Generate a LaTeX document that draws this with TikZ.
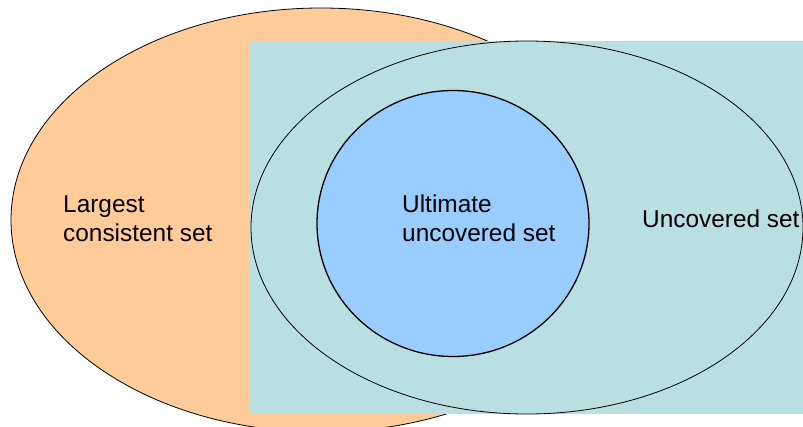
\documentclass[tikz,border=0pt]{standalone}
\usepackage{fontspec}
\setmainfont{Liberation Sans}
\usetikzlibrary{shapes.geometric}
\definecolor{peach}{HTML}{FFCC99}
\definecolor{teal}{HTML}{BADFE2}
\definecolor{skyblue}{HTML}{99CCFF}
\tikzset{
  setoval/.style={ellipse, draw=black, inner sep=0pt, line width=0.8pt},
  lbl/.style={align=left, inner sep=0pt, anchor=base west,
    font=\fontsize{24.4pt}{29pt}\selectfont}
}
\begin{document}
\begin{tikzpicture}[x=1pt,y=-1pt]
\useasboundingbox (0,0) rectangle (803,426);
\node[setoval, fill=peach, minimum width=620pt, minimum height=424pt] (lcs) at (321,220) {};
\fill[teal] (250,41) rectangle (803,414);
\node[setoval, minimum width=552pt, minimum height=373pt] (unc) at (527,227.5) {};
\node[setoval, fill=skyblue, line width=1.3pt, minimum width=272pt, minimum height=266pt] (ult) at (453,223.5) {};
\node[lbl] (tlcs) at (63,241) {Largest\\consistent set};
\node[lbl] (tult) at (402,241) {Ultimate\\uncovered set};
\node[lbl] (tunc) at (642,227) {Uncovered set};
\end{tikzpicture}
\end{document}
